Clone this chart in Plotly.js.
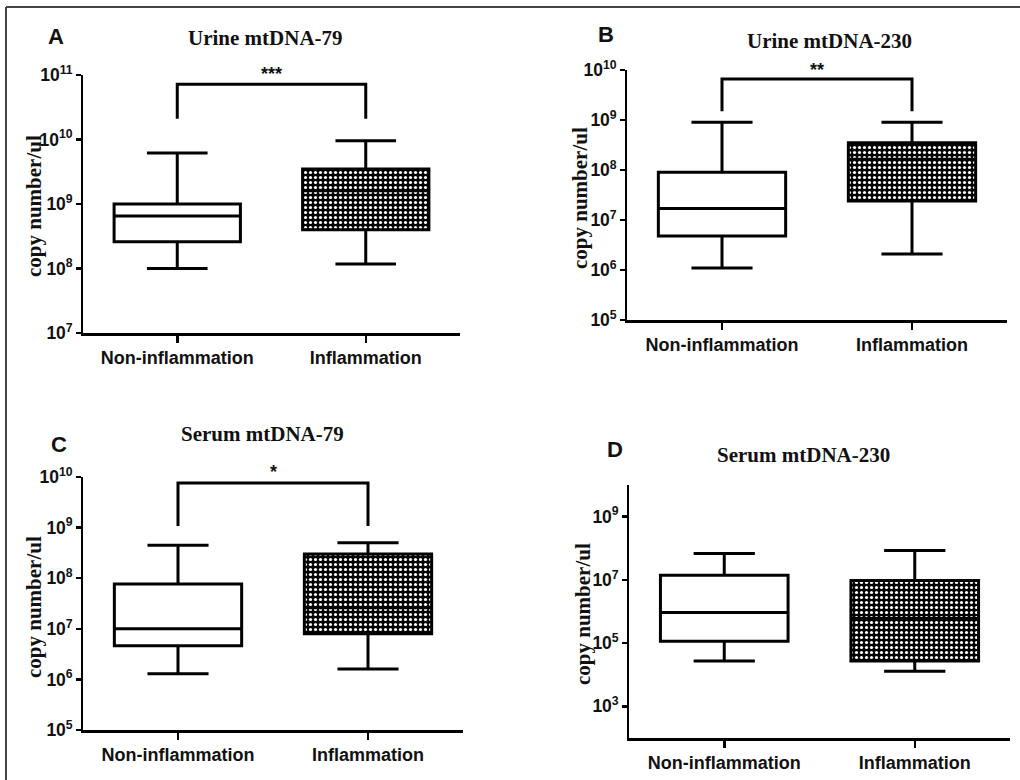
<!DOCTYPE html>
<html><head><meta charset="utf-8">
<script src="https://cdn.plot.ly/plotly-3.0.1.min.js"></script>
<style>html,body{margin:0;padding:0;background:#fff}</style>
</head><body><div id="chart" style="width:1020px;height:780px"></div>
<script>
const categories = ['Non-inflammation', 'Inflammation'];
const panelTitles = ['Urine mtDNA-79', 'Urine mtDNA-230', 'Serum mtDNA-79', 'Serum mtDNA-230'];
const panelLetters = ['A', 'B', 'C', 'D'];

// Panel A: Urine mtDNA-79
const urine79Lower  = [1.0e8, 1.17e8];
const urine79Q1     = [2.6e8, 4.0e8];
const urine79Median = [6.5e8, 1.6e9];
const urine79Q3     = [1.0e9, 3.5e9];
const urine79Upper  = [6.2e9, 9.6e9];
// Panel B: Urine mtDNA-230
const urine230Lower  = [1.1e6, 2.1e6];
const urine230Q1     = [4.8e6, 2.4e7];
const urine230Median = [1.7e7, 1.65e8];
const urine230Q3     = [9.0e7, 3.5e8];
const urine230Upper  = [9.0e8, 9.0e8];
// Panel C: Serum mtDNA-79
const serum79Lower  = [1.3e6, 1.6e6];
const serum79Q1     = [4.6e6, 8.0e6];
const serum79Median = [1.0e7, 2.6e7];
const serum79Q3     = [7.7e7, 3.0e8];
const serum79Upper  = [4.5e8, 5.0e8];
// Panel D: Serum mtDNA-230
const serum230Lower  = [2.7e4, 1.3e4];
const serum230Q1     = [1.15e5, 2.7e4];
const serum230Median = [9.3e5, 6.0e5];
const serum230Q3     = [1.4e7, 9.5e6];
const serum230Upper  = [6.8e7, 8.5e7];

// Significance brackets (panels A, B, C)
const sigStars = ['***', '**', '*'];
const sigTop   = [7.2e10, 6.6e9, 7.6e9];
const sigLeg   = [2.1e10, 1.5e9, 1.07e9];

// Y axis log ranges (exponents)
const yExpRanges = [[7, 11], [5, 10], [5, 10], [2, 10]];
const yDticks = [1, 1, 1, 2];

const panels = [
  {lower: urine79Lower, q1: urine79Q1, med: urine79Median, q3: urine79Q3, upper: urine79Upper},
  {lower: urine230Lower, q1: urine230Q1, med: urine230Median, q3: urine230Q3, upper: urine230Upper},
  {lower: serum79Lower, q1: serum79Q1, med: serum79Median, q3: serum79Q3, upper: serum79Upper},
  {lower: serum230Lower, q1: serum230Q1, med: serum230Median, q3: serum230Q3, upper: serum230Upper}
];

const W = 1020, H = 780;
const px = x => x / W, py = y => 1 - y / H;
// plot areas in pixels: [x0, x1, yTop, yBottom]
const areas = [[83, 460, 75, 333], [627, 1007, 70, 320], [83, 463, 477, 730], [629, 1010, 485, 738]];
const titlePos = [[265, 38], [829, 41], [262, 434], [803, 455]];
const letterPos = [[56, 36], [606, 35], [59, 444], [615, 450]];
const yTitlePos = [[34, 206], [580, 198], [34, 607], [583, 614]];
const starPosY = [74, 70, 472];

const BOXW = 0.67;
const traces = [];
const layout = {
  width: W, height: H,
  margin: {l: 0, r: 0, t: 0, b: 0},
  paper_bgcolor: '#fff', plot_bgcolor: 'rgba(0,0,0,0)',
  showlegend: false, boxmode: 'overlay', barmode: 'overlay',
  annotations: [], shapes: []
};

panels.forEach((p, i) => {
  const n = i + 1;
  const xa = 'x' + (n === 1 ? '' : n), ya = 'y' + (n === 1 ? '' : n);
  const xk = 'xaxis' + (n === 1 ? '' : n), yk = 'yaxis' + (n === 1 ? '' : n);
  const a = areas[i];
  layout[xk] = {
    domain: [px(a[0]), px(a[1])], anchor: ya, type: 'category',
    range: [-0.5, 1.5], showgrid: false, zeroline: false,
    showline: true, linecolor: '#000', linewidth: 2.5,
    ticks: 'outside', ticklen: 7, tickwidth: 2.5, tickcolor: '#000',
    tickfont: {family: 'Liberation Sans, Arial, sans-serif', size: 18, color: '#111', weight: 'bold'},
    fixedrange: true
  };
  layout[yk] = {
    domain: [py(a[3]), py(a[2])], anchor: xa, type: 'log',
    range: yExpRanges[i], dtick: yDticks[i], tick0: 1,
    exponentformat: 'power', showgrid: false, zeroline: false,
    showline: true, linecolor: '#000', linewidth: 2.5,
    ticks: 'outside', ticklen: 5, tickwidth: 2.5, tickcolor: '#000',
    tickfont: {family: 'Liberation Sans, Arial, sans-serif', size: 14, color: '#111', weight: 'bold'},
    fixedrange: true
  };

  categories.forEach((c, j) => {
    if (j === 1) {
      traces.push({
        type: 'bar', x: [c], base: [p.q1[j]], y: [p.q3[j] - p.q1[j]],
        width: BOXW, xaxis: xa, yaxis: ya, hoverinfo: 'skip',
        marker: {color: '#000', line: {width: 0},
          pattern: {shape: '.', fillmode: 'replace', bgcolor: '#000', fgcolor: '#fff', size: 5, solidity: 0.32}}
      });
    }
    traces.push({
      type: 'box', x: [c], q1: [p.q1[j]], median: [p.med[j]], q3: [p.q3[j]],
      lowerfence: [p.lower[j]], upperfence: [p.upper[j]],
      width: BOXW, whiskerwidth: 0.48, boxpoints: false,
      fillcolor: j === 0 ? '#fff' : 'rgba(0,0,0,0)',
      line: {color: '#000', width: 3},
      xaxis: xa, yaxis: ya
    });
  });

  if (i < sigStars.length) {
    traces.push({
      type: 'scatter', mode: 'lines', xaxis: xa, yaxis: ya, hoverinfo: 'skip',
      x: [categories[0], categories[0], categories[1], categories[1]],
      y: [sigLeg[i], sigTop[i], sigTop[i], sigLeg[i]],
      line: {color: '#000', width: 3}
    });
    layout.annotations.push({
      xref: xa, yref: 'paper', x: 0.5, y: py(starPosY[i]),
      text: sigStars[i], showarrow: false, xanchor: 'center', yanchor: 'middle',
      font: {family: 'Liberation Sans, Arial, sans-serif', size: 18, color: '#111', weight: 'bold'}
    });
  }

  layout.annotations.push({
    xref: 'paper', yref: 'paper', x: px(titlePos[i][0]), y: py(titlePos[i][1]),
    text: panelTitles[i], showarrow: false, xanchor: 'center', yanchor: 'middle',
    font: {family: 'Liberation Serif, Times New Roman, serif', size: 21, color: '#111', weight: 'bold'}
  });
  layout.annotations.push({
    xref: 'paper', yref: 'paper', x: px(letterPos[i][0]), y: py(letterPos[i][1]),
    text: panelLetters[i], showarrow: false, xanchor: 'center', yanchor: 'middle',
    font: {family: 'Liberation Sans, Arial, sans-serif', size: 22, color: '#111', weight: 'bold'}
  });
  layout.annotations.push({
    xref: 'paper', yref: 'paper', x: px(yTitlePos[i][0]), y: py(yTitlePos[i][1]),
    text: 'copy number/ul', showarrow: false, textangle: -90, xanchor: 'center', yanchor: 'middle',
    font: {family: 'Liberation Serif, Times New Roman, serif', size: 21, color: '#111', weight: 'bold'}
  });
});

layout.shapes.push({type: 'line', xref: 'paper', yref: 'paper', x0: px(6), x1: 1, y0: py(7), y1: py(7), line: {color: '#444', width: 2}});
layout.shapes.push({type: 'line', xref: 'paper', yref: 'paper', x0: px(6), x1: px(6), y0: py(7), y1: 0, line: {color: '#444', width: 2}});

Plotly.newPlot('chart', traces, layout, {staticPlot: true, displayModeBar: false});
</script></body></html>
